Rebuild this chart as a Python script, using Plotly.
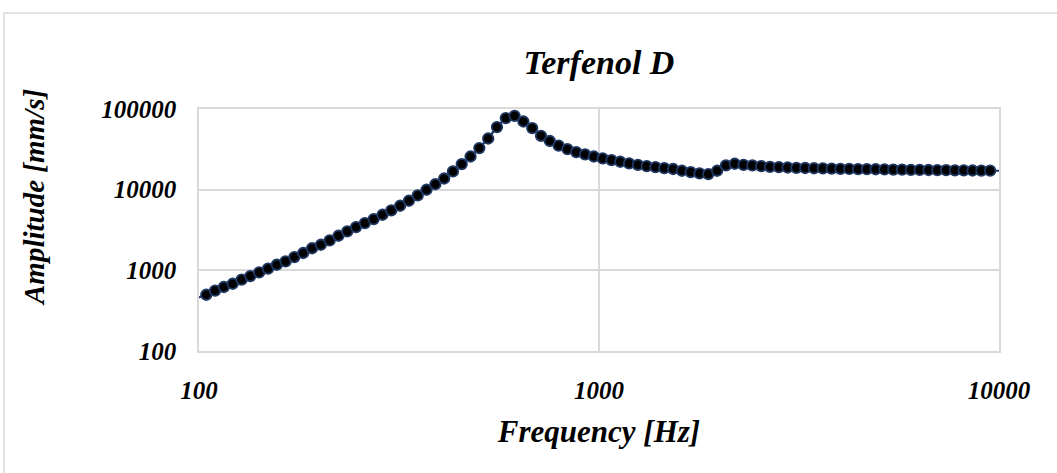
import plotly.graph_objects as go

# Frequency [Hz] of each measured point (last one lies just beyond the axis end)
freq = [99.2, 104.3, 109.7, 115.4, 121.4, 127.8, 134.4, 141.4, 148.8, 156.5,
        164.6, 173.2, 182.2, 191.7, 201.7, 212.2, 223.2, 234.8, 247.0, 259.9,
        273.4, 287.6, 302.5, 318.3, 334.8, 352.2, 370.5, 389.8, 410.1, 431.4,
        453.8, 477.4, 502.2, 528.4, 555.8, 584.7, 615.1, 647.1, 680.8, 716.2,
        753.4, 792.6, 833.8, 877.2, 922.8, 970.8, 1021.3, 1074.4, 1130.3, 1189.0,
        1250.9, 1315.9, 1384.4, 1456.4, 1532.1, 1611.8, 1695.6, 1783.7, 1876.5, 1974.1,
        2076.7, 2184.7, 2298.3, 2417.8, 2543.5, 2675.8, 2815.0, 2961.4, 3115.4, 3277.4,
        3447.8, 3627.1, 3815.7, 4014.1, 4222.9, 4442.5, 4673.5, 4916.5, 5172.2, 5441.2,
        5724.1, 6021.8, 6335.0, 6664.4, 7011.0, 7375.6, 7759.1, 8162.6, 8587.1, 9033.6,
        9503.4, 10000.5]

# Amplitude [mm/s]
amp = [454, 498, 559, 621, 682, 765, 850, 942, 1047, 1173,
       1289, 1462, 1639, 1879, 2076, 2347, 2684, 3034, 3440, 3856,
       4322, 4887, 5526, 6317, 7288, 8475, 9972, 11670, 13760, 16810,
       20760, 25790, 32780, 43100, 59680, 77140, 82360, 70000, 57990, 46550,
       40130, 35200, 31850, 29240, 27310, 25790, 24360, 23270, 22170, 21120,
       20350, 19610, 19050, 18520, 18050, 17150, 16530, 15880, 15610, 17150,
       19950, 20940, 20350, 19950, 19610, 19220, 19050, 18840, 18680, 18550,
       18430, 18360, 18200, 18150, 18100, 18000, 17950, 17900, 17800, 17750,
       17700, 17640, 17590, 17540, 17490, 17440, 17390, 17340, 17290, 17240,
       17190, 17150]

x_ticks = [100, 1000, 10000]
y_ticks = [100, 1000, 10000, 100000]

title_text = "Terfenol D"
x_title = "Frequency [Hz]"
y_title = "Amplitude [mm/s]"

FONT = "Liberation Serif, Times New Roman, serif"
GRID = "#D9D9D9"
NAVY = "#1F3864"

fig = go.Figure()
# connecting line (clipped at the plot edge)
fig.add_trace(go.Scatter(
    x=freq, y=amp, mode="lines",
    line=dict(color=NAVY, width=2.2),
    hoverinfo="skip", showlegend=False, cliponaxis=True))
# markers (not clipped, like the reference's first point on the axis)
fig.add_trace(go.Scatter(
    x=freq[:-1], y=amp[:-1], mode="markers",
    marker=dict(size=10.5, color="#000000", line=dict(color=NAVY, width=1.8)),
    showlegend=False, cliponaxis=False))

L, R, T, B = 199, 58, 109, 122
W, H = 1057, 473
pw, ph = W - L - R, H - T - B

font_common = dict(family=FONT, color="#000000", weight="bold", style="italic")

fig.update_layout(
    width=W, height=H,
    margin=dict(l=L, r=R, t=T, b=B, autoexpand=False),
    paper_bgcolor="white", plot_bgcolor="white",
    title=dict(text=title_text, x=0.5, xref="paper", xanchor="center",
               y=1 - 62 / H, yref="container", yanchor="middle",
               font=dict(size=34, **font_common)),
    xaxis=dict(type="log", range=[2, 4],
               tickmode="array", tickvals=x_ticks, ticktext=[str(v) for v in x_ticks],
               showgrid=True, gridcolor=GRID, gridwidth=1.5,
               showline=True, linecolor=GRID, linewidth=1.5, mirror=True,
               ticks="", ticklabelstandoff=16,
               tickfont=dict(size=25, **font_common),
               title=dict(text=x_title, standoff=18, font=dict(size=31, **font_common)),
               zeroline=False),
    yaxis=dict(type="log", range=[2, 5],
               tickmode="array", tickvals=y_ticks, ticktext=[str(v) for v in y_ticks],
               showgrid=True, gridcolor=GRID, gridwidth=1.5,
               showline=True, linecolor=GRID, linewidth=1.5, mirror=True,
               ticks="", ticklabelstandoff=16,
               tickfont=dict(size=25, **font_common),
               zeroline=False),
)

# y-axis title placed like the reference (centred a little above the plot middle)
fig.add_annotation(text=y_title, textangle=-90, showarrow=False,
                   xref="paper", yref="paper",
                   x=(34 - L) / pw, y=(T + ph - 198) / ph,
                   xanchor="center", yanchor="middle",
                   font=dict(size=29, **font_common))

# outer chart border
fig.add_shape(type="rect", xref="paper", yref="paper",
              x0=(4 - L) / pw, x1=(W + 5 - L) / pw,
              y0=-(H + 5 - (T + ph)) / ph, y1=(T + ph - 13) / ph,
              line=dict(color=GRID, width=1.5), fillcolor="rgba(0,0,0,0)", layer="below")

fig.write_html("out.html",
               config={"displayModeBar": False},
               post_script="document.body.style.margin='0';document.body.style.overflow='hidden';")
